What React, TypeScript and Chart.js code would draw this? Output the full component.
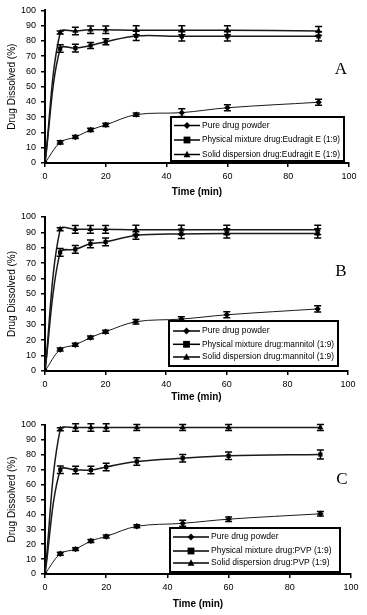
import React, { useEffect, useRef } from "react";
import { Chart, registerables } from "chart.js";

Chart.register(...registerables);

// ---------- data ----------
const timeMin = [0, 5, 10, 15, 20, 30, 45, 60, 90];
const xTickStep = 20;
const yTickStep = 10;

const legendLabelsA = ["Pure drug powder", "Physical mixture drug:Eudragit E (1:9)", "Solid dispersion drug:Eudragit E (1:9)"];
const legendLabelsB = ["Pure drug powder", "Physical mixture drug:mannitol (1:9)", "Solid dispersion drug:mannitol (1:9)"];
const legendLabelsC = ["Pure drug powder", "Physical mixture drug:PVP (1:9)", "Solid dispersion drug:PVP (1:9)"];

// Panel A (Eudragit E)
const pureA = [0, 13.5, 17, 21.7, 25, 31.7, 33, 36.2, 39.8];
const pureAErr = [0, 1, 1, 1, 1, 1, 2.5, 2, 2];
const pmA = [0, 75, 75.3, 77, 79.5, 83.3, 83, 83, 83];
const pmAErr = [0, 2.5, 2.5, 2, 2, 3, 3, 3, 3];
const sdA = [0, 85.5, 86.5, 87.3, 87.3, 87, 87, 87, 86.5];
const sdAErr = [0, 1, 2.5, 2.5, 2.5, 3, 3, 3, 3];

// Panel B (mannitol)
const pureB = [0, 14, 17, 21.7, 25.5, 32, 33.7, 36.5, 40.3];
const pureBErr = [0, 1, 1, 1, 1, 1.5, 1.5, 2, 2];
const pmB = [0, 77, 79, 82.6, 83.8, 88, 89, 89.3, 89.3];
const pmBErr = [0, 2.5, 2.5, 2.5, 2.5, 2.5, 3, 3, 3];
const sdB = [0, 92, 92, 92, 92, 91.7, 91.7, 91.7, 91.7];
const sdBErr = [0, 1, 2.5, 2.5, 2.5, 3, 3, 3, 3];

// Panel C (PVP)
const pureC = [0, 13.6, 16.7, 22.2, 25.2, 32, 34, 36.8, 40.4];
const pureCErr = [0, 1, 1, 1, 1, 1, 2, 1.5, 1.5];
const pmC = [0, 70, 69.8, 69.8, 71.8, 75.5, 77.7, 79.3, 80.2];
const pmCErr = [0, 2.5, 2.5, 2.5, 2.5, 2.5, 2.5, 2.5, 3];
const sdC = [0, 97.2, 98.3, 98.3, 98.3, 98.3, 98.3, 98.3, 98.3];
const sdCErr = [0, 1, 2.5, 2.5, 2.5, 2, 2, 2, 2];

// ---------- plugins ----------
const errorBarPlugin = {
  id: "errorBars",
  afterDatasetsDraw(chart: any) {
    const ctx = chart.ctx;
    const xs = chart.scales.x;
    const ys = chart.scales.y;
    ctx.save();
    ctx.strokeStyle = "#000";
    ctx.lineWidth = 1.5;
    chart.data.datasets.forEach((ds: any) => {
      const errs: number[] = ds.errors || [];
      ds.data.forEach((p: any, i: number) => {
        const e = errs[i] || 0;
        if (e <= 0) return;
        const x = xs.getPixelForValue(p.x);
        const yt = ys.getPixelForValue(p.y + e);
        const yb = ys.getPixelForValue(p.y - e);
        ctx.beginPath();
        ctx.moveTo(x, yt);
        ctx.lineTo(x, yb);
        ctx.moveTo(x - 3.5, yt);
        ctx.lineTo(x + 3.5, yt);
        ctx.moveTo(x - 3.5, yb);
        ctx.lineTo(x + 3.5, yb);
        ctx.stroke();
      });
    });
    ctx.restore();
  },
};

function drawMarker(ctx: CanvasRenderingContext2D, style: string, x: number, y: number, r: number) {
  ctx.beginPath();
  if (style === "rectRot") {
    ctx.moveTo(x, y - r);
    ctx.lineTo(x + r, y);
    ctx.lineTo(x, y + r);
    ctx.lineTo(x - r, y);
  } else if (style === "rect") {
    ctx.rect(x - r, y - r, 2 * r, 2 * r);
  } else {
    ctx.moveTo(x, y - r * 1.1);
    ctx.lineTo(x + r, y + r * 0.8);
    ctx.lineTo(x - r, y + r * 0.8);
  }
  ctx.closePath();
  ctx.fill();
}

const boxLegendPlugin = {
  id: "boxLegend",
  afterDraw(chart: any, _args: any, opts: any) {
    const ctx = chart.ctx;
    const b = opts.box;
    if (!b) return;
    ctx.save();
    ctx.fillStyle = "#fff";
    ctx.fillRect(b.x, b.y, b.w, b.h);
    ctx.strokeStyle = "#000";
    ctx.lineWidth = 2;
    ctx.strokeRect(b.x, b.y, b.w, b.h);
    ctx.font = "8.5px 'Liberation Sans', Arial, sans-serif";
    ctx.textBaseline = "middle";
    const maxW = b.x + b.w - opts.textX - 4;
    chart.data.datasets.forEach((ds: any, i: number) => {
      const y = b.y + opts.rows[i];
      ctx.strokeStyle = "#000";
      ctx.lineWidth = 1.5;
      ctx.beginPath();
      ctx.moveTo(opts.lineX0, y);
      ctx.lineTo(opts.lineX1, y);
      ctx.stroke();
      ctx.fillStyle = "#000";
      drawMarker(ctx, ds.pointStyle, (opts.lineX0 + opts.lineX1) / 2, y, 3.4);
      ctx.fillText(ds.label, opts.textX, y, maxW);
    });
    // panel letter
    ctx.font = "17px 'Liberation Serif', 'Times New Roman', serif";
    ctx.textAlign = "center";
    ctx.fillText(opts.letter, opts.letterX, opts.letterY);
    ctx.restore();
  },
};

// ---------- panel ----------
type PanelProps = {
  height: number;
  areaLeft: number;
  areaRight: number;
  areaTop: number;
  areaBottom: number;
  titlePadBottom: number;
  labels: string[];
  pure: number[];
  pureErr: number[];
  pm: number[];
  pmErr: number[];
  sd: number[];
  sdErr: number[];
  legend: any;
};

const W = 367;

function Panel(p: PanelProps) {
  const ref = useRef<HTMLCanvasElement>(null);
  useEffect(() => {
    if (!ref.current) return;
    const toPts = (v: number[]) => timeMin.map((t, i) => ({ x: t, y: v[i] }));
    const tickFont = { family: "'Liberation Sans', Arial, sans-serif", size: 9 };
    const mk = (label: string, v: number[], e: number[], style: string, r: number, w: number) => ({
      label,
      data: toPts(v),
      errors: e,
      pointStyle: style,
      pointRadius: r,
      pointBackgroundColor: "#000",
      pointBorderColor: "#000",
      pointBorderWidth: 0,
      borderColor: "#1a1a1a",
      borderWidth: w,
      tension: 0.35,
      fill: false,
    });
    const chart = new Chart(ref.current, {
      type: "line",
      data: {
        datasets: [
          mk(p.labels[0], p.pure, p.pureErr, "rectRot", 3.2, 1),
          mk(p.labels[1], p.pm, p.pmErr, "rect", 3, 1.5),
          mk(p.labels[2], p.sd, p.sdErr, "triangle", 3.5, 1.5),
        ] as any,
      },
      options: {
        animation: false,
        responsive: false,
        maintainAspectRatio: false,
        layout: { padding: { top: p.areaTop, right: W - p.areaRight, left: 0, bottom: 0 } },
        plugins: {
          legend: { display: false },
          tooltip: { enabled: false },
          boxLegend: p.legend,
        } as any,
        scales: {
          x: {
            type: "linear",
            min: 0,
            max: 100,
            ticks: { stepSize: xTickStep, font: tickFont, color: "#000", padding: 4, maxRotation: 0 },
            grid: { drawOnChartArea: false, drawTicks: true, tickLength: 4, color: "#000", lineWidth: 1.5 },
            border: { display: true, color: "#000", width: 2 },
            title: {
              display: true,
              text: "Time (min)",
              color: "#000",
              font: { family: "'Liberation Sans', Arial, sans-serif", size: 10, weight: "bold" },
              padding: { top: 0, bottom: p.titlePadBottom },
            },
            afterFit: (s: any) => {
              s.height = p.height - p.areaBottom;
            },
          },
          y: {
            type: "linear",
            min: 0,
            max: 100,
            ticks: { stepSize: yTickStep, font: tickFont, color: "#000", padding: 5 },
            grid: { drawOnChartArea: false, drawTicks: true, tickLength: 4, color: "#000", lineWidth: 1.5 },
            border: { display: true, color: "#000", width: 2 },
            title: {
              display: true,
              text: "Drug Dissolved (%)",
              color: "#000",
              font: { family: "'Liberation Sans', Arial, sans-serif", size: 10 },
              padding: { top: 6.5, bottom: 0 },
            },
            afterFit: (s: any) => {
              s.width = p.areaLeft;
            },
          },
        } as any,
      },
      plugins: [errorBarPlugin, boxLegendPlugin],
    });
    return () => chart.destroy();
  }, []);
  return <canvas ref={ref} width={W} height={p.height} style={{ display: "block", width: W, height: p.height }} />;
}

export default function App() {
  useEffect(() => {
    document.body.style.margin = "0";
    document.body.style.background = "#fff";
  }, []);
  return (
    <div style={{ width: W, height: 615, background: "#fff" }}>
      <Panel
        height={200}
        areaLeft={45}
        areaRight={349}
        areaTop={10}
        areaBottom={163}
        titlePadBottom={1.7}
        labels={legendLabelsA}
        pure={pureA}
        pureErr={pureAErr}
        pm={pmA}
        pmErr={pmAErr}
        sd={sdA}
        sdErr={sdAErr}
        legend={{ box: { x: 171, y: 117, w: 173, h: 44 }, rows: [8.5, 23, 37.5], lineX0: 174, lineX1: 200, textX: 202, letter: "A", letterX: 341, letterY: 70 }}
      />
      <Panel
        height={205}
        areaLeft={45}
        areaRight={348}
        areaTop={17}
        areaBottom={171}
        titlePadBottom={1.3}
        labels={legendLabelsB}
        pure={pureB}
        pureErr={pureBErr}
        pm={pmB}
        pmErr={pmBErr}
        sd={sdB}
        sdErr={sdBErr}
        legend={{ box: { x: 169, y: 121, w: 169, h: 45 }, rows: [10, 23.3, 36], lineX0: 173, lineX1: 200, textX: 202, letter: "B", letterX: 341, letterY: 71.5 }}
      />
      <Panel
        height={210}
        areaLeft={45}
        areaRight={351}
        areaTop={20}
        areaBottom={169}
        titlePadBottom={5}
        labels={legendLabelsC}
        pure={pureC}
        pureErr={pureCErr}
        pm={pmC}
        pmErr={pmCErr}
        sd={sdC}
        sdErr={sdCErr}
        legend={{ box: { x: 170, y: 123, w: 170, h: 44 }, rows: [9, 23, 35], lineX0: 173, lineX1: 209, textX: 211, letter: "C", letterX: 342, letterY: 75 }}
      />
    </div>
  );
}
